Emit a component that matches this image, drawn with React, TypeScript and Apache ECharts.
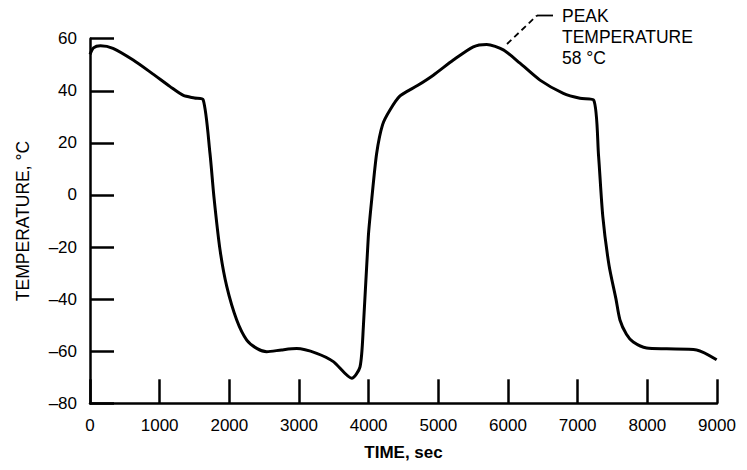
import React, { useEffect, useRef } from "react";
import * as echarts from "echarts";

const timeSec = [0, 50, 150, 330, 620, 900, 1150, 1340, 1500, 1625, 1722, 1780, 1866, 1962, 2106, 2250, 2400, 2537, 2750, 2967, 3254, 3493, 3757, 3876, 3924, 3995, 4043, 4115, 4200, 4306, 4450, 4700, 4928, 5215, 5502, 5694, 5933, 6172, 6459, 6794, 7033, 7230, 7300, 7360, 7450, 7550, 7607, 7700, 7798, 7990, 8277, 8708, 8995];
const temperature = [54, 56.5, 57.3, 56.3, 51.8, 46.5, 41.6, 38.2, 37.2, 36.5, 16, -1, -21, -35, -48, -55.7, -59, -60.2, -59.5, -59, -60.8, -64, -70.4, -66, -50.5, -16, -2, 16, 27, 32.6, 38, 42, 46, 51.8, 56.9, 57.8, 55.7, 50.6, 44.1, 39, 37.1, 36.4, 15, -8, -27, -40, -48, -53.5, -56.5, -58.8, -59.1, -59.5, -63.3];
const xTicks = [0, 1000, 2000, 3000, 4000, 5000, 6000, 7000, 8000, 9000];
const yTicks = [-80, -60, -40, -20, 0, 20, 40, 60];
const annotationLines = ["PEAK", "TEMPERATURE", "58 \u00B0C"];

const FONT = "Liberation Sans, Arial, Helvetica, sans-serif";

export default function App() {
  const ref = useRef<HTMLDivElement>(null);
  useEffect(() => {
    document.body.style.margin = "0";
    const chart = echarts.init(ref.current!, null, { renderer: "svg" });
    const data = timeSec.map((t, i) => [t, temperature[i]]);
    chart.setOption({
      animation: false,
      backgroundColor: "#fff",
      grid: { left: 90, right: 30, top: 38.7, bottom: 66.7, containLabel: false },
      xAxis: {
        type: "value",
        min: xTicks[0],
        max: xTicks[xTicks.length - 1],
        interval: 1000,
        name: "TIME, sec",
        nameLocation: "middle",
        nameGap: 41,
        nameTextStyle: { fontFamily: FONT, fontSize: 17, fontWeight: "bold", color: "#000" },
        axisLine: { show: true, onZero: false, lineStyle: { color: "#000", width: 2.5 } },
        axisTick: { show: true, inside: true, length: 24, lineStyle: { color: "#000", width: 2.5 } },
        axisLabel: {
          margin: 14,
          fontFamily: FONT,
          fontSize: 17,
          color: "#000",
          formatter: (v: number) => String(v),
        },
        splitLine: { show: false },
      },
      yAxis: {
        type: "value",
        min: yTicks[0],
        max: yTicks[yTicks.length - 1],
        interval: 20,
        name: "TEMPERATURE, \u00B0C",
        nameLocation: "middle",
        nameGap: 58,
        nameTextStyle: { fontFamily: FONT, fontSize: 17.5, color: "#000" },
        axisLine: { show: true, onZero: false, lineStyle: { color: "#000", width: 2.5 } },
        axisTick: { show: true, inside: true, length: 24, lineStyle: { color: "#000", width: 2.5 } },
        axisLabel: {
          margin: 13,
          fontFamily: FONT,
          fontSize: 17,
          color: "#000",
          formatter: (v: number) => String(v).replace("-", "\u2013"),
        },
        splitLine: { show: false },
      },
      series: [
        {
          type: "line",
          data,
          smooth: 0.25,
          showSymbol: false,
          lineStyle: { color: "#000", width: 3 },
        },
      ],
      graphic: [
        {
          type: "line",
          shape: { x1: 507, y1: 44, x2: 537, y2: 15.5 },
          style: { stroke: "#000", lineWidth: 1.8, lineDash: [6, 4] },
        },
        {
          type: "line",
          shape: { x1: 537, y1: 15.5, x2: 553, y2: 15.5 },
          style: { stroke: "#000", lineWidth: 1.8 },
        },
        ...annotationLines.map((t, i) => ({
          type: "text",
          left: 562,
          top: 7 + i * 21,
          style: { text: t, fontFamily: FONT, fontSize: 17.5, fill: "#000" },
        })),
      ],
    });
    return () => chart.dispose();
  }, []);
  return <div ref={ref} style={{ width: 747, height: 470 }} />;
}
